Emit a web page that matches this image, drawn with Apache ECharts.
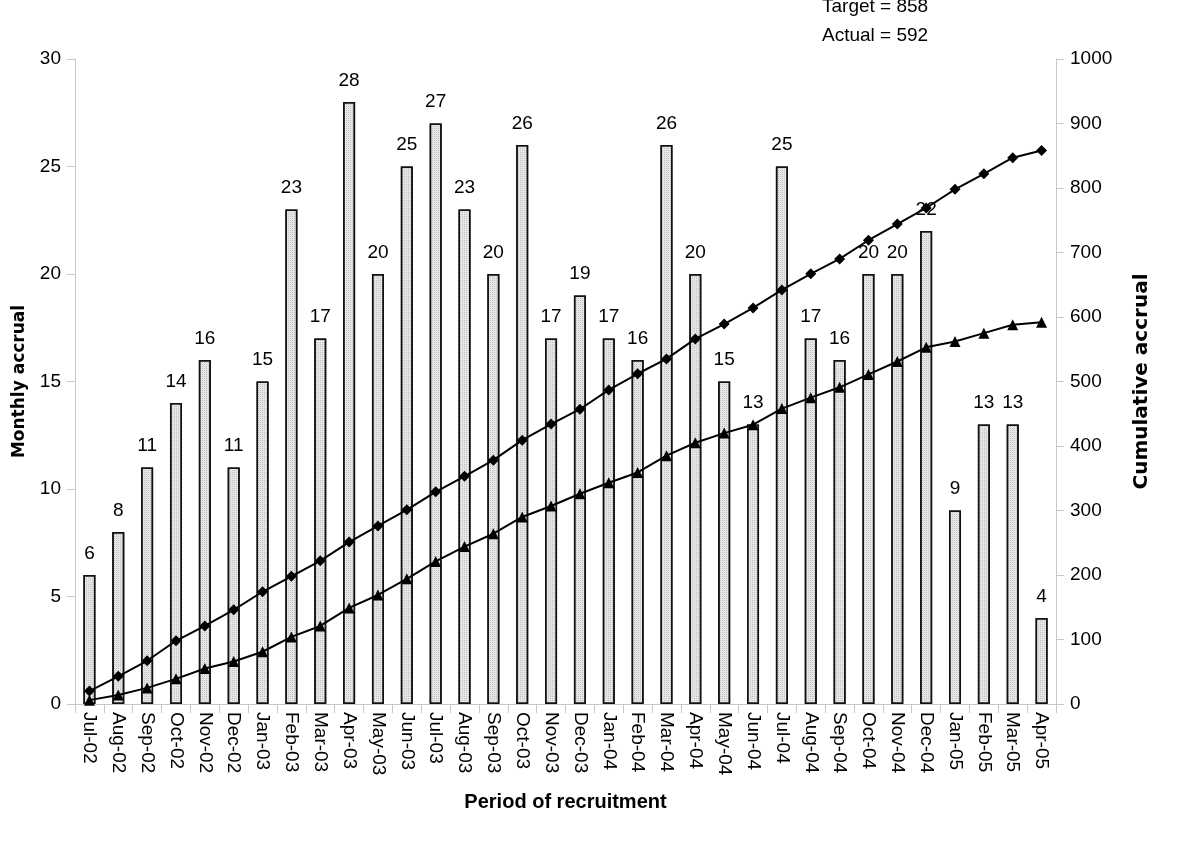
<!DOCTYPE html>
<html><head><meta charset="utf-8">
<script src="https://cdn.jsdelivr.net/npm/echarts@6/dist/echarts.min.js"></script>
<style>html,body{margin:0;padding:0;background:#fff}#c{width:1200px;height:850px}</style>
</head><body><div id="c"></div>
<script>
const months = ['Jul-02','Aug-02','Sep-02','Oct-02','Nov-02','Dec-02','Jan-03','Feb-03','Mar-03','Apr-03','May-03','Jun-03','Jul-03','Aug-03','Sep-03','Oct-03','Nov-03','Dec-03','Jan-04','Feb-04','Mar-04','Apr-04','May-04','Jun-04','Jul-04','Aug-04','Sep-04','Oct-04','Nov-04','Dec-04','Jan-05','Feb-05','Mar-05','Apr-05'];
const monthly = [6,8,11,14,16,11,15,23,17,28,20,25,27,23,20,26,17,19,17,16,26,20,15,13,25,17,16,20,20,22,9,13,13,4];
const cumulativeActual = [6,14,25,39,55,66,81,104,121,149,169,194,221,244,264,290,307,326,343,359,385,405,420,433,458,475,491,511,531,553,562,575,588,592];
const cumulativeTarget = [20,43,67,98,121,146,174,198,222,251,276,301,329,353,378,409,434,457,487,512,535,566,589,614,642,667,690,719,744,769,798,822,847,858];
const leftTicks = [0,5,10,15,20,25,30];
const rightTicks = [0,100,200,300,400,500,600,700,800,900,1000];

const chart = echarts.init(document.getElementById('c'));
const font = '"Liberation Sans", Arial, sans-serif';
const titleFont = '"DejaVu Sans", sans-serif';
chart.setOption({
  animation: false,
  grid: {left: 75, right: 144, top: 59, bottom: 146, outerBoundsMode: 'none', containLabel: false},
  textStyle: {fontFamily: font},
  graphic: [
    {type: 'text', left: 822, top: -3, style: {text: 'Target = 858', fontSize: 19, fill: '#000', fontFamily: font}},
    {type: 'text', left: 822, top: 26, style: {text: 'Actual = 592', fontSize: 19, fill: '#000', fontFamily: font}}
  ],
  xAxis: {
    type: 'category', data: months,
    axisLine: {lineStyle: {color: '#c8c8c8'}},
    axisTick: {show: true, length: 9, lineStyle: {color: '#c8c8c8'}},
    axisLabel: {rotate: -90, color: '#000', fontSize: 19, fontFamily: font, margin: 8, interval: 0},
    name: 'Period of recruitment', nameLocation: 'middle', nameGap: 88,
    nameTextStyle: {fontWeight: 'bold', fontSize: 20, color: '#000', fontFamily: font}
  },
  yAxis: [
    {type: 'value', min: 0, max: 30, interval: 5,
     axisLine: {show: true, lineStyle: {color: '#c8c8c8'}},
     axisTick: {show: true, length: 8, lineStyle: {color: '#c8c8c8'}},
     splitLine: {show: false},
     axisLabel: {color: '#000', fontSize: 19, fontFamily: font, margin: 14},
     name: 'Monthly accrual', nameLocation: 'middle', nameGap: 47, nameRotate: 90,
     nameTextStyle: {fontWeight: 'bold', fontSize: 17, color: '#000', fontFamily: titleFont}},
    {type: 'value', min: 0, max: 1000, interval: 100, position: 'right',
     axisLine: {show: true, lineStyle: {color: '#c8c8c8'}},
     axisTick: {show: true, length: 8, lineStyle: {color: '#c8c8c8'}},
     splitLine: {show: false},
     axisLabel: {color: '#000', fontSize: 19, fontFamily: font, margin: 14, formatter: v => String(v)},
     name: 'Cumulative accrual', nameLocation: 'middle', nameGap: 76, nameRotate: 90,
     nameTextStyle: {fontWeight: 'bold', fontSize: 20, color: '#000', fontFamily: titleFont}}
  ],
  series: [
    {type: 'bar', data: monthly, yAxisIndex: 0, barWidth: 12,
     itemStyle: {color: '#e6e6e6', borderColor: '#111', borderWidth: 1.5,
       decal: {symbol: 'rect', symbolSize: 1, color: 'rgba(150,150,150,0.45)', dashArrayX: [1, 1], dashArrayY: [1, 1], rotation: 0}},
     label: {show: true, position: 'top', distance: 12, color: '#000', fontSize: 19, fontFamily: font}},
    {type: 'line', data: cumulativeTarget, yAxisIndex: 1, symbol: 'diamond', symbolSize: 11,
     lineStyle: {color: '#000', width: 2}, itemStyle: {color: '#000'}},
    {type: 'line', data: cumulativeActual, yAxisIndex: 1, symbol: 'triangle', symbolSize: 11,
     lineStyle: {color: '#000', width: 2}, itemStyle: {color: '#000'}}
  ]
});
</script></body></html>
